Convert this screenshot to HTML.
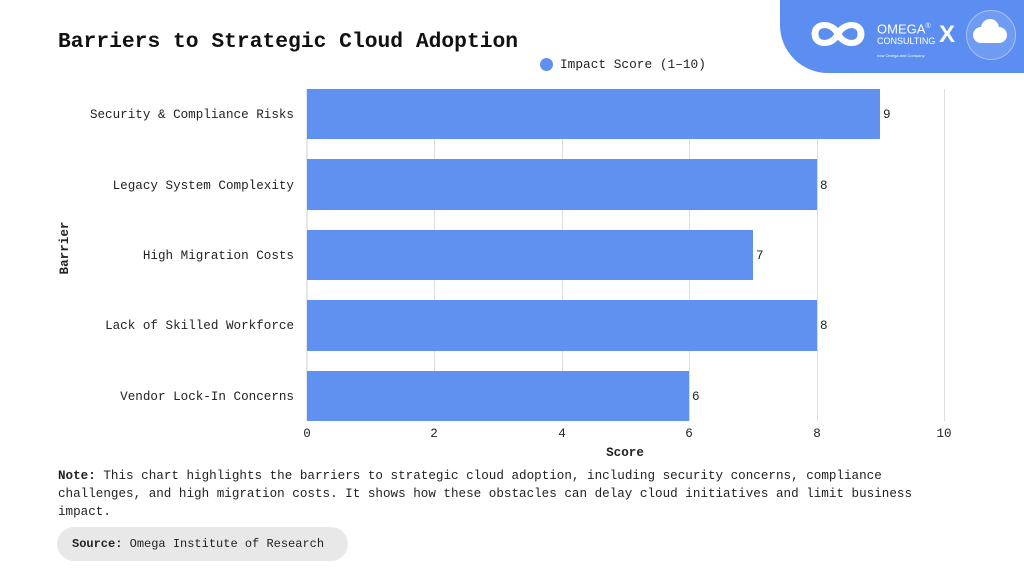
<!DOCTYPE html>
<html><head><style>
body{margin:0;width:1024px;height:576px;background:#fff;position:relative;overflow:hidden;font-family:"Liberation Mono",monospace;color:#222}
.t{position:absolute;font-size:12.8px}
</style></head><body>
<div style="position:absolute;left:780px;top:-10px;width:270px;height:83px;background:#5b8ef0;border-bottom-left-radius:48px"></div>
<svg style="position:absolute;left:800px;top:14px" width="80" height="40"><path d="M20 20 C20 8 35 8 40 20 C45 32 60 32 60 20 C60 8 45 8 40 20 C35 32 20 32 20 20Z" transform="translate(-8 0) scale(1.15 1)" fill="none" stroke="#fff" stroke-width="6"/></svg>
<div style="position:absolute;left:877px;top:21px;color:#fff;font-family:'Liberation Sans',sans-serif;font-size:13px;line-height:11px">OMEGA<sup style="font-size:7px">®</sup><br><span style="font-size:9px">CONSULTING</span><br><span style="font-size:4px">now Omega and Company</span></div>
<div style="position:absolute;left:939px;top:21px;color:#fff;font-family:'Liberation Sans',sans-serif;font-weight:bold;font-size:24px">X</div>
<div style="position:absolute;left:966px;top:10px;width:48px;height:48px;border-radius:50%;background:#6f9cf2;border:1px solid #a9c3f7"></div>
<div style="position:absolute;left:973px;top:27px;width:34px;height:16px;border-radius:8px;background:#fff"></div>
<div style="position:absolute;left:981px;top:19px;width:18px;height:18px;border-radius:50%;background:#fff"></div>
<div style="position:absolute;left:58px;top:30px;font-size:21.3px;font-weight:bold;color:#111">Barriers to Strategic Cloud Adoption</div>
<div style="position:absolute;left:540px;top:58px;width:13px;height:13px;border-radius:50%;background:#6090f0"></div>
<div class="t" style="left:560px;top:57px">Impact Score (1–10)</div>
<svg style="position:absolute;left:0;top:0" width="1024" height="576">
<g stroke="#ddd" stroke-width="1">
<line x1="434.5" y1="89" x2="434.5" y2="421"/><line x1="562.5" y1="89" x2="562.5" y2="421"/><line x1="689.5" y1="89" x2="689.5" y2="421"/><line x1="817.5" y1="89" x2="817.5" y2="421"/><line x1="944.5" y1="89" x2="944.5" y2="421"/>
</g>
<line x1="307" y1="89" x2="307" y2="421" stroke="#ccc"/>
<g fill="#6090f0">
<rect x="307" y="89" width="573" height="50"/>
<rect x="307" y="159" width="510" height="51"/>
<rect x="307" y="230" width="446" height="50"/>
<rect x="307" y="300" width="510" height="51"/>
<rect x="307" y="371" width="382" height="50"/>
</g>
<g font-family="Liberation Mono,monospace" font-size="12.6" fill="#222">
<text x="883" y="118">9</text><text x="820" y="189">8</text><text x="756" y="259">7</text><text x="820" y="329">8</text><text x="692" y="400">6</text>
<g text-anchor="end">
<text x="294" y="118">Security &amp; Compliance Risks</text>
<text x="294" y="189">Legacy System Complexity</text>
<text x="294" y="259">High Migration Costs</text>
<text x="294" y="329">Lack of Skilled Workforce</text>
<text x="294" y="400">Vendor Lock-In Concerns</text>
</g>
<g text-anchor="middle">
<text x="307" y="437">0</text><text x="434" y="437">2</text><text x="562" y="437">4</text><text x="689" y="437">6</text><text x="817" y="437">8</text><text x="944" y="437">10</text>
<text x="625" y="456" font-weight="bold">Score</text>
<text transform="translate(68 248) rotate(-90)" font-weight="bold">Barrier</text>
</g>
</g>
</svg>
<div class="t" style="left:58px;top:467px;width:900px;line-height:18px;font-size:12.6px"><b>Note:</b> This chart highlights the barriers to strategic cloud adoption, including security concerns, compliance challenges, and high migration costs. It shows how these obstacles can delay cloud initiatives and limit business impact.</div>
<div style="position:absolute;left:57px;top:527px;width:291px;height:34px;border-radius:17px;background:#e8e8e8"></div>
<div class="t" style="left:72px;top:537px;font-size:12px"><b>Source:</b> Omega Institute of Research</div>
</body></html>
